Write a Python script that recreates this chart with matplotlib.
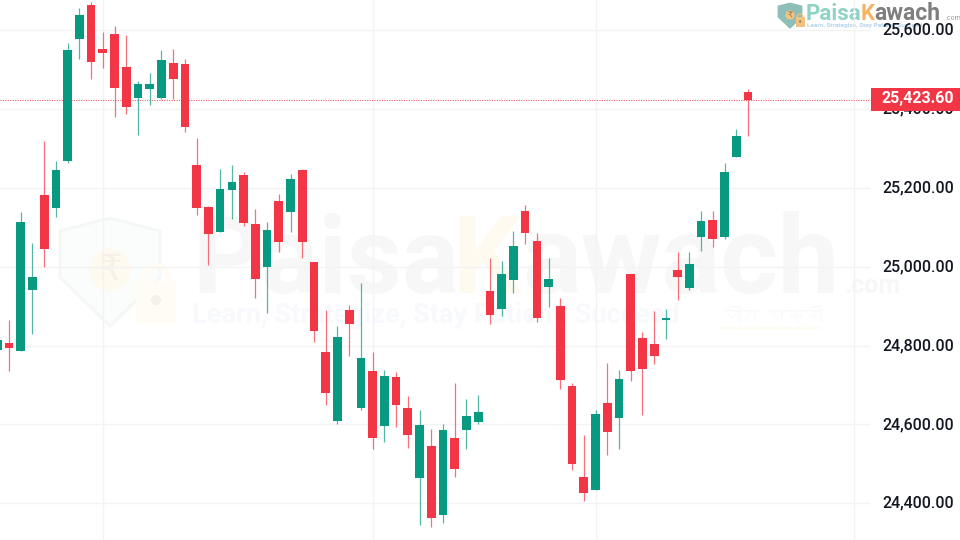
"""
plot.py
Candlestick chart of the index with PaisaKawach watermark.
"""

import matplotlib
matplotlib.use('Agg')
import matplotlib.pyplot as plt
from matplotlib import font_manager
from matplotlib.ft2font import FT2Font
from matplotlib.patches import Polygon, Circle, Rectangle
from matplotlib.transforms import ScaledTranslation

# candle values, first candle is the cut one at the left edge
opens = [24789, 24806, 24785, 24941, 25182, 25150, 25269, 25577, 25663, 25553, 25590, 25506,
         25428, 25450, 25428, 25516, 25513, 25258, 25151, 25089, 25195, 25232, 25109, 24998,
         25167, 25139, 25245, 25013, 24784, 24610, 24891, 24643, 24736, 24597, 24721, 24642,
         24465, 24545, 24371, 24565, 24587, 24607, 24939, 24892, 24966, 25142, 25065, 24949,
         24901, 24697, 24468, 24434, 24654, 24616, 24982, 24820, 24803, 24865, 24992, 24946,
         25074, 25119, 25074, 25277, 25442]
highs = [24814, 24865, 25139, 25059, 25319, 25267, 25566, 25655, 25670, 25594, 25609, 25588,
         25471, 25492, 25549, 25551, 25526, 25325, 25153, 25248, 25258, 25239, 25146, 25113,
         25184, 25235, 25248, 25013, 24890, 24850, 24903, 24958, 24783, 24738, 24734, 24673,
         24637, 24588, 24602, 24704, 24664, 24675, 25023, 25014, 25090, 25156, 25085, 25023,
         24920, 24704, 24573, 24637, 24757, 24738, 24982, 24834, 24888, 24893, 25037, 25037,
         25141, 25141, 25262, 25348, 25450]
lows = [24789, 24736, 24785, 24829, 25000, 25127, 25262, 25527, 25477, 25504, 25380, 25386,
        25334, 25409, 25424, 25425, 25342, 25131, 25004, 25088, 25122, 25104, 24921, 24883,
        25038, 25087, 25021, 24808, 24649, 24601, 24774, 24637, 24539, 24556, 24593, 24540,
        24346, 24339, 24350, 24468, 24539, 24600, 24855, 24876, 24933, 25058, 24861, 24897,
        24691, 24484, 24407, 24433, 24523, 24537, 24709, 24625, 24753, 24817, 24916, 24941,
        25040, 25051, 25071, 25277, 25332]
closes = [24814, 24793, 25113, 24973, 25046, 25245, 25550, 25638, 25518, 25541, 25454, 25406,
          25463, 25463, 25523, 25477, 25355, 25150, 25083, 25197, 25214, 25112, 24970, 25093,
          25062, 25222, 25062, 24838, 24681, 24822, 24854, 24769, 24565, 24724, 24649, 24573,
          24598, 24362, 24586, 24488, 24622, 24632, 24878, 24982, 25052, 25085, 24871, 24969,
          24712, 24501, 24427, 24627, 24580, 24715, 24735, 24741, 24773, 24870, 24973, 25007,
          25116, 25069, 25241, 25331, 25423.6]
x_pos = list(range(-1, 64))

price_ticks = [24400, 24600, 24800, 25000, 25200, 25400, 25600]
time_grid = [8, 31, 50, 72]
last_price = 25423.60

VERDE = '#089981'
VERMELHO = '#F23645'
GRADE = '#F3F3F3'
plt.rcParams['font.family'] = ['Roboto', 'DejaVu Sans']


def fonte_devanagari():
    """Looks for an installed font with Devanagari, there may be none."""
    for f in font_manager.fontManager.ttflist:
        try:
            if 0x091C in FT2Font(f.fname).get_charmap():
                return f.name
        except Exception:
            continue
    return None


def desenhar_escudo(ax, x, y, larg, alt, cor_borda, cor_circulo, cor_cadeado, cor_rupia):
    """Shield with rupee coin and padlock, used by both logos."""
    pontos = [(x, y + alt * 0.12), (x + larg * 0.5, y), (x + larg, y + alt * 0.12),
              (x + larg, y + alt * 0.55), (x + larg * 0.5, y + alt), (x, y + alt * 0.55)]
    ax.add_patch(Polygon(pontos, closed=True, facecolor='#FBFCFC' if larg > 50 else cor_borda,
                         edgecolor=cor_borda, linewidth=2))
    ax.add_patch(Circle((x + larg * 0.5, y + alt * 0.48), larg * 0.21, facecolor=cor_circulo, edgecolor='none'))
    ax.text(x + larg * 0.5, y + alt * 0.48, '₹', color=cor_rupia, ha='center', va='center',
            fontsize=larg * 0.26, family='DejaVu Sans')
    ax.add_patch(Rectangle((x + larg * 0.76, y + alt * 0.58), larg * 0.40, alt * 0.40,
                           facecolor=cor_cadeado, edgecolor='none'))
    ax.add_patch(Circle((x + larg * 0.96, y + alt * 0.56), larg * 0.13, facecolor='none',
                        edgecolor=cor_cadeado, linewidth=larg * 0.04))
    ax.add_patch(Circle((x + larg * 0.96, y + alt * 0.76), larg * 0.05, facecolor=cor_rupia, edgecolor='none'))


fig = plt.figure(figsize=(9.6, 5.4), dpi=100, facecolor='white')

# layer with the logos, in pixels of the picture
fundo = fig.add_axes([0, 0, 1, 1], zorder=0)
fundo.set_xlim(0, 960)
fundo.set_ylim(540, 0)
fundo.axis('off')

# big watermark
desenhar_escudo(fundo, 60, 218, 100, 108, '#F4F7F6', '#FFFAF0', '#FFFCF6', '#F5F1E8')
fundo.text(192, 293, 'Paisa', color='#F7F7F7', fontsize=77, fontweight='bold', va='baseline')
fundo.text(452, 293, 'K', color='#FFFAF0', fontsize=77, fontweight='bold', va='baseline')
fundo.text(522, 293, 'awach', color='#F7F7F7', fontsize=79, fontweight='bold', va='baseline')
fundo.text(845, 293, '.com', color='#F7F7F7', fontsize=18, fontweight='bold', va='baseline')
fundo.text(192, 323, 'Learn, Strategize, Stay Patient, Succeed', color='#F8F9FC', fontsize=19.5,
           fontweight='bold', va='baseline')
nome_hindi = fonte_devanagari()
if nome_hindi:
    fundo.text(724, 323, 'जीत पक्की', color='#F8F9FC', fontsize=13, family=nome_hindi, va='baseline')
fundo.plot([722, 820], [328, 328], color='#FFFBF2', linewidth=1.5)

# logo at the top right
desenhar_escudo(fundo, 779, 4, 22, 23, '#8DBFB8', '#F3C27F', '#F3C27F', '#8A7A50')
fundo.text(806, 20, 'Paisa', color='#8FD3C4', fontsize=16, fontweight='bold', va='baseline')
fundo.text(861, 20, 'K', color='#F6B565', fontsize=16, fontweight='bold', va='baseline')
fundo.text(874, 20, 'awach', color='#7F7F7F', fontsize=16.5, fontweight='bold', va='baseline')
fundo.text(945, 20, '.com', color='#A0A0A0', fontsize=5, va='baseline')
fundo.text(807, 26.5, 'Learn, Strategize, Stay Patient, Succeed', color='#B5D5EA', fontsize=4.6,
           fontweight='bold', va='baseline')

# price chart
ax = fig.add_axes([0, 0, 870 / 960, 1], zorder=1)
ax.patch.set_alpha(0)
ax.set_xlim(-0.767, 73.4)
ax.set_ylim(24307.15, 25676.05)
for lado in ax.spines.values():
    lado.set_visible(False)
ax.set_axisbelow(True)

ax.set_xticks(time_grid)
ax.set_xticklabels([])
ax.tick_params(axis='x', length=0)
ax.yaxis.tick_right()
ax.set_yticks(price_ticks)
ax.set_yticklabels([f'{p:,.2f}' for p in price_ticks])
ax.tick_params(axis='y', length=0, pad=8.6, labelsize=11.5, labelcolor='#131722')
ax.grid(True, color=GRADE, linewidth=1)

# labels sit a bit above the grid lines
sobe = ScaledTranslation(0, 0.015, fig.dpi_scale_trans)
for rot in ax.get_yticklabels():
    rot.set_transform(rot.get_transform() + sobe)
    rot.set_fontweight('medium')

for x, o, h, l, c in zip(x_pos, opens, highs, lows, closes):
    cor = VERDE if c >= o else VERMELHO
    ax.plot([x, x], [l, h], color=cor, linewidth=0.9, alpha=0.7, solid_capstyle='butt', zorder=2)
    base = min(o, c)
    ax.bar(x, max(o, c) - base, bottom=base, width=0.74, color=cor, linewidth=0, zorder=3)

# last price line and label
ax.axhline(last_price, color=VERMELHO, linewidth=0.8, linestyle=(0, (1, 1.2)), alpha=0.8, zorder=1.5)
ax.add_patch(Rectangle((871 / 870, last_price - 29), 89 / 870, 58, transform=ax.get_yaxis_transform(),
                       facecolor=VERMELHO, edgecolor='none', zorder=5, clip_on=False))
ax.text(882 / 870, last_price, f'{last_price:,.2f}', ha='left', va='center', color='white',
        fontsize=11.5, fontweight='bold', zorder=6, clip_on=False,
        transform=ax.get_yaxis_transform() + sobe)

fig.savefig('out.png', dpi=100)
